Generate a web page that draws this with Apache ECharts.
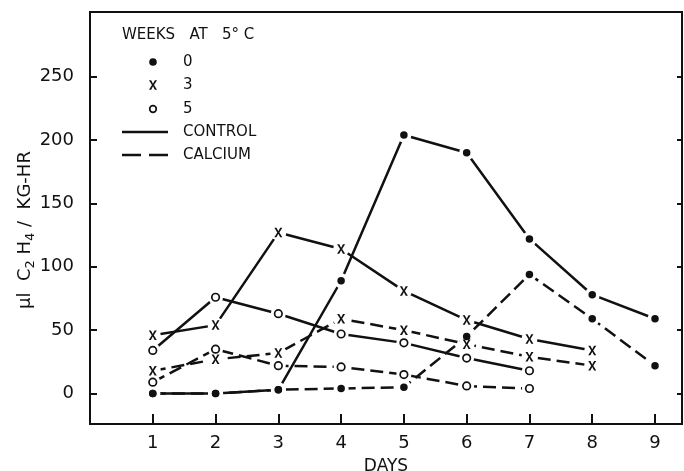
<!DOCTYPE html>
<html>
<head>
<meta charset="utf-8">
<script src="https://cdn.jsdelivr.net/npm/echarts@6/dist/echarts.min.js"></script>
<style>
  html, body { margin: 0; padding: 0; background: #fff; }
  #chart { width: 684px; height: 471px; }
</style>
</head>
<body>
<div id="chart"></div>
<script>
// Ethylene production (µl C2H4 / kg-hr) by day after storage at 5°C
const days = [1, 2, 3, 4, 5, 6, 7, 8, 9];
const yTicks = [0, 50, 100, 150, 200, 250];

// 0 weeks at 5°C
const control0 = [0, 0, 3, 89, 204, 190, 122, 78, 59];
const calcium0 = [0, 0, 3, 4, 5, 45, 94, 59, 22];
// 3 weeks at 5°C (days 1-8)
const control3 = [46, 54, 127, 114, 81, 58, 43, 34];
const calcium3 = [18, 27, 32, 59, 50, 39, 29, 22];
// 5 weeks at 5°C (days 1-7)
const control5 = [34, 76, 63, 47, 40, 28, 18];
const calcium5 = [9, 35, 22, 21, 15, 6, 4];

const FONT = 'DejaVu Sans';
const INK = '#111';
// outline of the "x" marker in a 10x10 box
const X_PTS = [[0,0],[2.7,0],[5,3.7],[7.3,0],[10,0],[6.3,5],[10,10],[7.3,10],[5,6.3],[2.7,10],[0,10],[3.7,5]];
const X_PATH = 'path://M' + X_PTS.map(p => p.join(',')).join('L') + 'Z';
const DASH = [13, 6];

const MARKS = {
  dot:    { symbol: 'circle', size: 7.5, halo: 15, style: { color: INK, opacity: 1 } },
  cross:  { symbol: X_PATH, size: [8, 9.5], halo: 16, style: { color: INK, opacity: 1 } },
  circle: { symbol: 'circle', size: 7.5, halo: 15, style: { color: '#fff', borderColor: INK, borderWidth: 1.7, opacity: 1 } }
};

function pairs(vals) { return vals.map((v, i) => [days[i], v]); }

function lineSeries(name, vals, dashed) {
  return {
    type: 'line', name, data: pairs(vals), symbol: 'none', z: 2, silent: true,
    lineStyle: { color: INK, width: 2.5, type: dashed ? DASH : 'solid' }
  };
}
// white discs under the markers leave a small gap where each line meets a point
function haloSeries(vals, kind) {
  return {
    type: 'scatter', data: pairs(vals), symbol: 'circle', symbolSize: MARKS[kind].halo,
    itemStyle: { color: '#fff', opacity: 1 }, z: 3, silent: true
  };
}
function markSeries(vals, kind) {
  const m = MARKS[kind];
  return {
    type: 'scatter', data: pairs(vals), symbol: m.symbol, symbolSize: m.size,
    itemStyle: m.style, z: 4, silent: true
  };
}

const groups = [
  { control: control0, calcium: calcium0, kind: 'dot' },
  { control: control3, calcium: calcium3, kind: 'cross' },
  { control: control5, calcium: calcium5, kind: 'circle' }
];

const series = [];
groups.forEach((g, i) => {
  series.push(lineSeries('control' + i, g.control, false));
  series.push(lineSeries('calcium' + i, g.calcium, true));
});
groups.forEach(g => {
  series.push(haloSeries(g.control, g.kind));
  series.push(haloSeries(g.calcium, g.kind));
});
groups.forEach(g => {
  series.push(markSeries(g.control, g.kind));
  series.push(markSeries(g.calcium, g.kind));
});

const txt = (text, x, y, size) => ({
  type: 'text', x, y, silent: true,
  style: { text, fill: INK, font: `${size || 15}px "${FONT}"`, verticalAlign: 'middle', align: 'left' }
});

// key drawn inside the plot area
const legendX = 122, markX = 153, labelX = 183;
const key = [
  txt('WEEKS   AT   5° C', legendX, 35),
  { type: 'circle', shape: { cx: markX, cy: 62, r: 3.8 }, style: { fill: INK }, silent: true },
  txt('0', labelX, 62),
  { type: 'polygon', shape: { points: X_PTS.map(p => [markX - 4 + p[0] * 0.8, 85 - 4.75 + p[1] * 0.95]) }, style: { fill: INK }, silent: true },
  txt('3', labelX, 85),
  { type: 'circle', shape: { cx: markX, cy: 109, r: 3.3 }, style: { fill: '#fff', stroke: INK, lineWidth: 1.7 }, silent: true },
  txt('5', labelX, 109),
  { type: 'line', shape: { x1: legendX, y1: 132, x2: 168, y2: 132 }, style: { stroke: INK, lineWidth: 2.5 }, silent: true },
  txt('CONTROL', labelX, 132),
  { type: 'line', shape: { x1: legendX, y1: 155, x2: 141, y2: 155 }, style: { stroke: INK, lineWidth: 2.5 }, silent: true },
  { type: 'line', shape: { x1: 149, y1: 155, x2: 168, y2: 155 }, style: { stroke: INK, lineWidth: 2.5 }, silent: true },
  txt('CALCIUM', labelX, 155)
];

// rotated y-axis title with subscripts
const yTitle = {
  type: 'text', x: 25, y: 230, rotation: Math.PI / 2, silent: true,
  style: {
    text: '{a|µl  C}{s|2}{a| H}{s|4}{a| /  KG-HR}',
    align: 'center', verticalAlign: 'middle', fill: INK,
    font: `18px "${FONT}"`,
    rich: {
      a: { fontFamily: FONT, fontSize: 18, fill: INK, lineHeight: 24, verticalAlign: 'middle' },
      s: { fontFamily: FONT, fontSize: 13, fill: INK, lineHeight: 24, verticalAlign: 'bottom' }
    }
  }
};

const axisLine = { show: true, onZero: false, lineStyle: { color: INK, width: 2 } };
const labelStyle = { color: INK, fontFamily: FONT, fontSize: 18 };

const chart = echarts.init(document.getElementById('chart'), null, { renderer: 'canvas' });
chart.setOption({
  animation: false,
  backgroundColor: '#fff',
  grid: {
    left: 90, right: 2, top: 12, bottom: 47, show: true, borderColor: INK, borderWidth: 2,
    containLabel: false, outerBoundsMode: 'none'
  },
  xAxis: {
    type: 'value', min: 0, max: 9.43,
    axisLine,
    axisTick: { show: true, inside: true, length: 10, customValues: days, lineStyle: { color: INK, width: 2 } },
    axisLabel: { ...labelStyle, margin: 10, customValues: days },
    splitLine: { show: false },
    name: 'DAYS', nameLocation: 'middle', nameGap: 34,
    nameTextStyle: { color: INK, fontFamily: FONT, fontSize: 17 }
  },
  yAxis: [
    {
      type: 'value', min: -24, max: 301, position: 'left',
      axisLine,
      axisTick: { show: true, inside: true, length: 7, customValues: yTicks, lineStyle: { color: INK, width: 2 } },
      axisLabel: { ...labelStyle, margin: 16, customValues: yTicks },
      splitLine: { show: false }
    },
    {
      type: 'value', min: -24, max: 301, position: 'right',
      axisLine,
      axisTick: { show: true, inside: true, length: 5, customValues: yTicks, lineStyle: { color: INK, width: 2 } },
      axisLabel: { show: false },
      splitLine: { show: false }
    }
  ],
  graphic: [yTitle, ...key],
  series
});
</script>
</body>
</html>
